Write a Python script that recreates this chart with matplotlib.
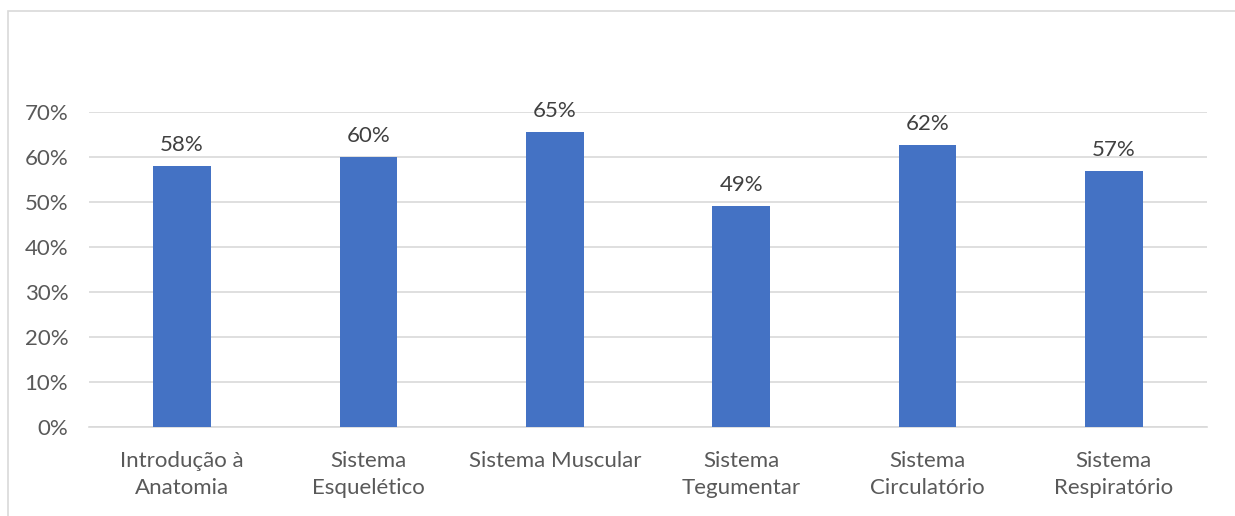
"""Taxa de acerto por tema - gráfico de barras"""
import matplotlib
matplotlib.use('Agg')
from matplotlib import pyplot as plt
from matplotlib.patches import Rectangle

# dados
temas = ['Introdução à\nAnatomia', 'Sistema\nEsquelético', 'Sistema Muscular',
         'Sistema\nTegumentar', 'Sistema\nCirculatório', 'Sistema\nRespiratório']
acertos = [0.579, 0.600, 0.655, 0.491, 0.627, 0.568]
rotulos = ['58%', '60%', '65%', '49%', '62%', '57%']
yticks = [0, 0.1, 0.2, 0.3, 0.4, 0.5, 0.6, 0.7]
ytick_labels = ['0%', '10%', '20%', '30%', '40%', '50%', '60%', '70%']

plt.rcParams['font.family'] = ['Lato', 'DejaVu Sans']

fig = plt.figure(figsize=(12.35, 5.16), dpi=100)
# moldura cinza clara do gráfico (cortada à direita e embaixo)
fig.patches.append(Rectangle((8 / 1235, -0.1), 1.2, 1 - 11 / 516 + 0.1,
                             transform=fig.transFigure, fill=False,
                             edgecolor='#d9d9d9', linewidth=1.2))

ax = fig.add_axes([89 / 1235, 1 - 427 / 516, (1207 - 89) / 1235, (427 - 112) / 516])
x = list(range(len(temas)))
bars = ax.bar(x, acertos, width=0.31, color='#4472C4', zorder=3)

for b, txt in zip(bars, rotulos):
    ax.annotate(txt, (b.get_x() + b.get_width() / 2, b.get_height()),
                xytext=(0, 8), textcoords='offset points', ha='center', va='bottom',
                fontsize=16, color='#404040')

ax.set_xlim(-0.5, len(temas) - 0.5)
ax.set_ylim(0, 0.7)
ax.set_yticks(yticks)
ax.set_yticklabels(ytick_labels, fontsize=16, color='#595959')
ax.set_xticks(x)
ax.set_xticklabels(temas, fontsize=16, color='#595959', linespacing=1.45)
ax.tick_params(axis='both', length=0)
ax.tick_params(axis='y', pad=15)
ax.tick_params(axis='x', pad=17)
ax.grid(axis='y', color='#d9d9d9', linewidth=1.2, zorder=0)
for s in ['top', 'right', 'left']:
    ax.spines[s].set_visible(False)
ax.spines['bottom'].set_color('#d9d9d9')
ax.spines['bottom'].set_linewidth(1.2)

fig.savefig('out.png', dpi=100)
